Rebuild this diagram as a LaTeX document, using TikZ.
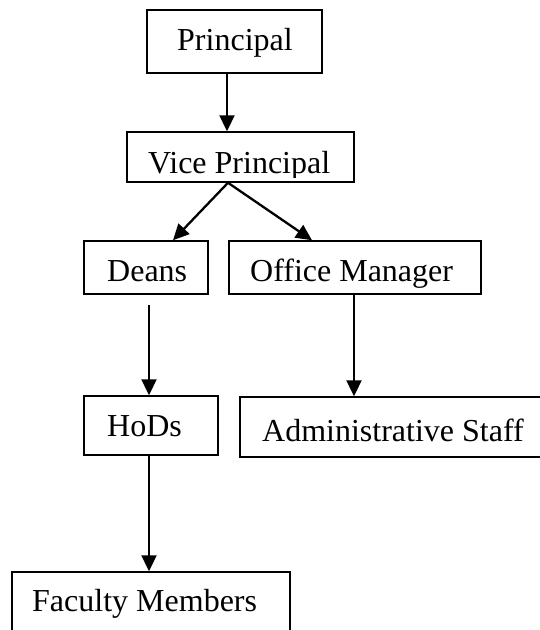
\documentclass[tikz,border=0pt]{standalone}
\usepackage{fontspec}
\setmainfont{Liberation Serif}
\usetikzlibrary{arrows.meta}
\begin{document}
\begin{tikzpicture}[x=1pt,y=-1pt,
  box/.style={draw, line width=1.5pt, inner sep=0pt, rectangle},
  lbl/.style={anchor=base west, inner sep=0pt, font=\fontsize{32}{38}\selectfont},
  arr/.style={line width=2.3pt, -{Triangle[length=16pt,width=15pt]}}]
\useasboundingbox (0,0) rectangle (540,630);
% boxes
\node[box, minimum width=175pt, minimum height=63pt] (p) at (234.5,41.5) {};
\node[box, minimum width=227pt, minimum height=50pt] (vp) at (240.5,157) {};
\node[box, minimum width=124pt, minimum height=53pt] (deans) at (146,267.5) {};
\node[box, minimum width=252pt, minimum height=53pt] (om) at (355,267.5) {};
\node[box, minimum width=134pt, minimum height=59pt] (hods) at (151,425.5) {};
\node[box, minimum width=310pt, minimum height=60pt] (admin) at (395,427) {};
\node[box, minimum width=278pt, minimum height=68pt] (fac) at (151,606) {};
% labels
\node[lbl] (pt) at (177,50) {Principal};
\begin{scope}
  \clip (127,132) rectangle (354,177);
  \node[lbl] (vpt) at (148,173) {Vice Principal};
\end{scope}
\node[lbl] (dt) at (107,281) {Deans};
\node[lbl] (omt) at (250,281) {Office Manager};
\node[lbl] (ht) at (107,436) {HoDs};
\node[lbl] (at) at (262,441) {Administrative Staff};
\node[lbl] (ft) at (32,611) {Faculty Members};
% connectors
\draw[arr] ([xshift=-7.5pt]p.south) -- ([xshift=-13.5pt]vp.north);
\draw[arr] ([xshift=-12.5pt]vp.south) -- ([xshift=27pt]deans.north);
\draw[arr] ([xshift=-12.5pt]vp.south) -- ([xshift=-43pt]om.north);
\draw[arr] ([xshift=3pt,yshift=-10pt]deans.south) -- ([xshift=-2pt]hods.north);
\draw[arr] ([xshift=-1pt]om.south) -- ([xshift=-41pt]admin.north);
\draw[arr] ([xshift=-2pt]hods.south) -- ([xshift=-2pt]fac.north);
\end{tikzpicture}
\end{document}
